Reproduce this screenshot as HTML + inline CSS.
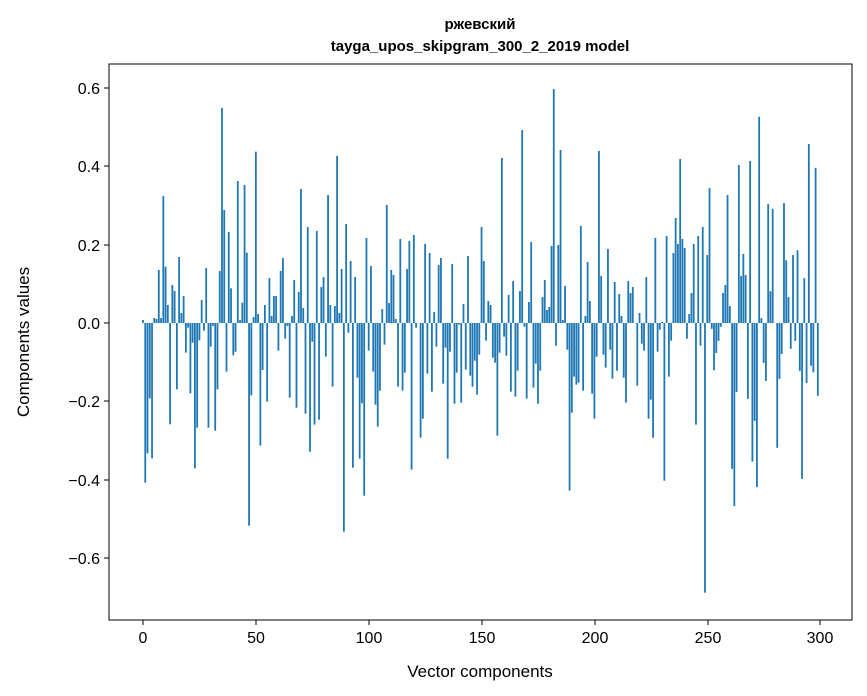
<!DOCTYPE html>
<html><head><meta charset="utf-8"><style>
html,body{margin:0;padding:0;background:#fff;}
svg{display:block;font-family:"Liberation Sans","DejaVu Sans",sans-serif;}
</style></head><body>
<svg id="s" width="867" height="696" xmlns="http://www.w3.org/2000/svg">
<rect width="867" height="696" fill="#fff"/>
<g id="bars"></g>
<rect x="109" y="64" width="743" height="556" fill="none" stroke="#000" stroke-width="1"/>
<g stroke="#000" stroke-width="1">
<line x1="104" x2="109" y1="88" y2="88"/><line x1="104" x2="109" y1="166" y2="166"/>
<line x1="104" x2="109" y1="245" y2="245"/><line x1="104" x2="109" y1="323" y2="323"/>
<line x1="104" x2="109" y1="401" y2="401"/><line x1="104" x2="109" y1="480" y2="480"/>
<line x1="104" x2="109" y1="558" y2="558"/>
<line x1="143" x2="143" y1="620" y2="625"/><line x1="256" x2="256" y1="620" y2="625"/>
<line x1="369" x2="369" y1="620" y2="625"/><line x1="482" x2="482" y1="620" y2="625"/>
<line x1="595" x2="595" y1="620" y2="625"/><line x1="708" x2="708" y1="620" y2="625"/>
<line x1="820" x2="820" y1="620" y2="625"/>
</g>
<g font-size="16" fill="#000" text-anchor="end">
<text x="100" y="94">0.6</text><text x="100" y="172">0.4</text><text x="100" y="251">0.2</text>
<text x="100" y="329">0.0</text><text x="100" y="407">−0.2</text><text x="100" y="486">−0.4</text>
<text x="100" y="564">−0.6</text>
</g>
<g font-size="16" fill="#000" text-anchor="middle">
<text x="143" y="643">0</text><text x="256" y="643">50</text><text x="369" y="643">100</text>
<text x="482" y="643">150</text><text x="595" y="643">200</text><text x="708" y="643">250</text>
<text x="820" y="643">300</text>
<text x="480" y="677" font-size="17">Vector components</text>
<text transform="translate(29,342) rotate(-90)" font-size="17">Components values</text>
<text x="480" y="29" font-size="15" font-weight="bold">ржевский</text>
<text x="480" y="51" font-size="15" font-weight="bold">tayga_upos_skipgram_300_2_2019 model</text>
</g>
</svg>
<script>
var a=[720,1208,1120,955,1135,714,717,570,714,348,560,675,1033,615,633,928,531,699,648,818,743,940,788,1165,1043,781,660,752,564,1043,800,738,1052,928,573,84,390,875,456,625,826,815,303,720,668,315,518,1337,946,711,215,
702,1097,870,675,965,594,708,648,648,812,573,534,776,738,953,708,600,983,636,327,684,1001,441,1115,785,1034,453,1019,621,591,830,345,675,920,678,228,699,567,1355,432,758,543,1163,591,893,1136,970,1247,474,812,
558,875,974,1040,932,687,794,375,669,570,585,717,920,477,932,878,567,483,1169,465,743,729,1073,1016,492,881,519,935,696,800,555,534,911,803,1136,815,552,971,878,734,968,672,869,528,887,920,842,944,824,441,
543,782,663,675,833,848,1067,818,234,770,827,645,935,603,950,872,633,150,740,956,666,486,923,851,971,872,651,600,690,681,498,27,797,495,210,720,618,809,1232,998,890,914,908,438,932,708,546,663,941,1016,
830,213,588,824,863,507,809,896,606,872,642,708,893,968,603,639,621,729,917,699,791,812,591,1016,959,1073,474,815,749,726,1202,468,890,782,519,414,492,237,477,504,776,702,639,492,1034,468,797,441];
var b=[1490,511,317,725,845,795,760,719,621,598,337,659,1131,1239,908,250,572,508,569,928,238,1110,992,1184,110,694,824,876,363,616,377,708,1070,870,798,360,526,633,783,511,760,497,847,1160,578,882,189,832,851,258,919];
var ys=[];for(var i=0;i<a.length;i++)ys.push(80+a[i]/3);
for(var j=0;j<b.length;j++)ys.push(323+(b[j]-708)/2.9);
var h='';
for(var k=0;k<ys.length;k++){var x=143+2.257*k-0.9,y=ys[k],t=Math.min(y,323),hh=Math.abs(y-323);
h+='<rect x="'+x.toFixed(2)+'" y="'+t.toFixed(2)+'" width="1.8" height="'+hh.toFixed(2)+'" fill="#1f77b4"/>';}
document.getElementById('bars').innerHTML=h;
</script>
</body></html>
